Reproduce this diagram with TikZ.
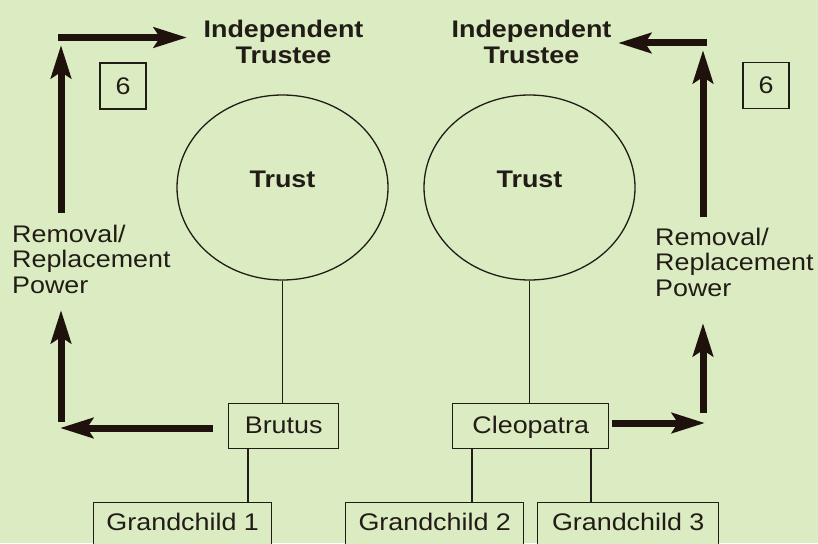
\documentclass[tikz,border=0pt]{standalone}
\usepackage{fontspec}
\setmainfont{Liberation Sans}[FakeStretch=1.12]
\usetikzlibrary{arrows.meta,shapes.geometric}
\definecolor{bg}{HTML}{DCECC2}
\definecolor{ink}{HTML}{221C17}
\definecolor{arrowink}{HTML}{1F120C}
\begin{document}
\begin{tikzpicture}[x=1pt,y=-1pt,
  txt/.style={font=\fontsize{24}{25.5}\selectfont, text=ink, inner sep=0pt},
  bold/.style={txt, font=\fontsize{24}{26.5}\selectfont\bfseries},
  box/.style={txt, draw=ink, line width=1.4pt, fill=bg, anchor=north west},
  thin/.style={draw=ink, line width=1.4pt},
  trustshape/.style={ellipse, draw=ink, line width=1.3pt, minimum width=211pt, minimum height=185pt, bold, text height=17pt, text depth=18pt},
  sixbox/.style={txt, draw=ink, line width=1.3pt, minimum size=46pt},
  arr/.style={draw=arrowink, line width=7pt, -{Stealth[length=33pt,width=20pt,inset=6pt]}}
]
\fill[bg] (0,0) rectangle (818,543);
\clip (0,0) rectangle (818,543);

% titles
\node[bold, align=center, anchor=north] (itL) at (283.5,19.5) {Independent\\Trustee};
\node[bold, align=center, anchor=north] (itR) at (531.5,19.5) {Independent\\Trustee};

% trusts
\node[trustshape] (trustL) at (282.5,187.5) {Trust};
\node[trustshape] (trustR) at (529.5,187.5) {Trust};

% number boxes
\node[sixbox] (sixL) at (123,86) {6};
\node[sixbox] (sixR) at (766,85.5) {6};

% power labels
\node[txt, align=left, anchor=north west] (remL) at (12,224.5) {Removal/\\Replacement\\Power};
\node[txt, align=left, anchor=north west] (remR) at (655,227.5) {Removal/\\Replacement\\Power};

% beneficiaries
\node[box, minimum width=110pt, text height=30pt, text depth=15pt] (brutus) at (228,403) {Brutus};
\node[box, minimum width=156pt, text height=30pt, text depth=15pt] (cleo) at (452,403) {Cleopatra};
\node[box, minimum width=178pt, text height=28pt, text depth=30pt] (gc1) at (93,502) {Grandchild 1};
\node[box, minimum width=178pt, text height=28pt, text depth=30pt] (gc2) at (345,502) {Grandchild 2};
\node[box, minimum width=181pt, text height=28pt, text depth=30pt] (gc3) at (537,502) {Grandchild 3};

% tree lines
\coordinate (g1) at (248,0);
\coordinate (g2) at (472,0);
\coordinate (g3) at (591,0);
\draw[thin] (trustL.south) -- (trustL.south |- brutus.north);
\draw[thin] (trustR.south) -- (trustR.south |- cleo.north);
\draw[thin] (brutus.south -| g1) -- (gc1.north -| g1);
\draw[thin] (cleo.south -| g2) -- (gc2.north -| g2);
\draw[thin] (cleo.south -| g3) -- (gc3.north -| g3);

% left arrows
\coordinate (llA) at (213,428);
\coordinate (llB) at (60,428);
\coordinate (llC) at (61,422);
\coordinate (llD) at (61,310);
\coordinate (ulA) at (61,213);
\coordinate (ulB) at (61,45);
\coordinate (ulC) at (58,37.5);
\coordinate (ulD) at (187,37.5);
\draw[arr] (llA) -- (llB);
\draw[arr] (llC) -- (llD);
\draw[arr] (ulA) -- (ulB);
\draw[arr] (ulC) -- (ulD);

% right arrows
\coordinate (lrA) at (612,423);
\coordinate (lrB) at (705,423);
\coordinate (lrC) at (703,413);
\coordinate (lrD) at (703,323);
\coordinate (urA) at (703,217);
\coordinate (urB) at (703,50);
\coordinate (urC) at (706.5,43);
\coordinate (urD) at (618,43);
\draw[arr] (lrA) -- (lrB);
\draw[arr] (lrC) -- (lrD);
\draw[arr] (urA) -- (urB);
\draw[arr] (urC) -- (urD);
\end{tikzpicture}
\end{document}
